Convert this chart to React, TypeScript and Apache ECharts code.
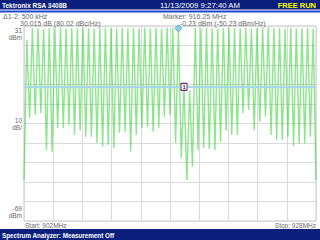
import React, { useEffect, useRef } from "react";
import * as echarts from "echarts";

// Axis range
const START_MHZ = 902;
const STOP_MHZ = 928;
const REF_DBM = 31;
const BOTTOM_DBM = -69;
const DIVISIONS = 10;

// Hopping channels (max-hold trace)
const CHANNEL_MHZ = 0.5;
const FIRST_PEAK_MHZ = 902.25;
const FIRST_VALLEY_MHZ = 902.5;
const EDGE_DBM = [-48, -48]; // at start and stop frequency

// Peak levels at 902.25, 902.75, ... 927.75 MHz
const PEAK_DBM = [
  24, 29.8, 30.1, 29.6, 30.0, 29.9, 30.2, 29.7, 30.0, 29.8,
  30.1, 29.9, 29.6, 30.0, 30.2, 29.8, 29.9, 30.1, 29.7, 30.0,
  29.9, 30.2, 29.8, 30.0, 29.6, 30.1, 29.9, 29.8, -0.23, -2,
  30.0, 29.8, 30.1, 29.9, 29.7, 30.0, 30.2, 29.8, 29.9, 30.1,
  29.7, 30.0, 29.9, 30.2, 29.8, 30.0, 29.6, 30.1, 29.9, 29.8,
  30.0, 29.7,
];

// Valley levels at 902.5, 903.0, ... 927.5 MHz
const VALLEY_DBM = [
  -16, -14.6, -13.6, -32.6, -33.5,
  -21.3, -21.3, -19.8, -24.9, -22.6,
  -25.8, -25.8, -29, -30.9, -30,
  -31.6, -23.9, -23.2, -33.5, -24.9,
  -21.3, -20.6, -23.2, -21.3, -15.5,
  -14.6, -29, -36.7, -48, -41.2,
  -32.6, -31.6, -32.1, -32.6, -28.3,
  -22.6, -24.9, -24.9, -13.6, -12.1,
  -22.6, -18.1, -15.5, -24.9, -27.5,
  -27.5, -25.8, -30.5, -29.2, -29.2,
  -25.8,
];

const MARKER1 = [916.25, -0.23];
const MARKER2 = [915.75, 29.8];

const Y_LABELS = ["31\ndBm", "10\ndB/", "-69\ndBm"];
const TITLE_LEFT = "Tektronix RSA 3408B";
const TITLE_DATE = "11/13/2009 9:27:40 AM";
const TITLE_RIGHT = "FREE RUN";
const DELTA_LINES = ["\u03941-2: 500 kHz", "30.015 dB (80.02 dBc/Hz)"];
const MARKER_LINES = ["Marker: 916.25 MHz", "-0.23 dBm (-50.23 dBm/Hz)"];
const START_LABEL = "Start: 902MHz";
const STOP_LABEL = "Stop: 928MHz";
const STATUS = "Spectrum Analyzer: Measurement Off";

function buildTrace(): number[][] {
  const pts: number[][] = [[START_MHZ, EDGE_DBM[0]]];
  for (let i = 0; i < PEAK_DBM.length; i++) {
    pts.push([FIRST_PEAK_MHZ + i * CHANNEL_MHZ, PEAK_DBM[i]]);
    if (i < VALLEY_DBM.length) {
      pts.push([FIRST_VALLEY_MHZ + i * CHANNEL_MHZ, VALLEY_DBM[i]]);
    }
  }
  pts.push([STOP_MHZ, EDGE_DBM[1]]);
  return pts;
}

const GRID = { left: 24, top: 26, width: 292, height: 195 };
const FONT = "Liberation Sans, Arial, sans-serif";

export default function App() {
  const ref = useRef<HTMLDivElement>(null);
  useEffect(() => {
    if (!ref.current) return;
    const chart = echarts.init(ref.current, undefined, { renderer: "svg" });
    const gridBottom = GRID.top + GRID.height;
    const txt = (x: number, y: number, text: string, o: any = {}) => ({
      type: "text",
      x,
      y,
      z: 100,
      style: {
        text,
        fill: o.fill || "#6a6a6a",
        fontSize: o.fontSize || 7,
        fontFamily: FONT,
        fontWeight: o.fontWeight || "normal",
        align: o.align || "left",
        verticalAlign: o.verticalAlign || "middle",
        lineHeight: o.lineHeight,
      },
    });
    chart.setOption({
      animation: false,
      backgroundColor: "#ffffff",
      grid: {
        left: GRID.left,
        top: GRID.top,
        width: GRID.width,
        height: GRID.height,
        show: true,
        borderColor: "#c8c8c8",
        borderWidth: 1,
        backgroundColor: "transparent",
      },
      xAxis: [
        { type: "value", min: START_MHZ, max: STOP_MHZ, show: false },
        {
          type: "value",
          min: 0,
          max: DIVISIONS,
          interval: 1,
          axisLine: { show: false },
          axisTick: { show: false },
          axisLabel: { show: false },
          splitLine: { show: true, lineStyle: { color: "#dadada", width: 1 } },
        },
      ],
      yAxis: [
        { type: "value", min: BOTTOM_DBM, max: REF_DBM, show: false },
        {
          type: "value",
          min: 0,
          max: DIVISIONS,
          interval: 1,
          axisLine: { show: false },
          axisTick: { show: false },
          axisLabel: { show: false },
          splitLine: { show: true, lineStyle: { color: "#dadada", width: 1 } },
        },
      ],
      series: [
        {
          type: "line",
          xAxisIndex: 0,
          yAxisIndex: 0,
          data: buildTrace(),
          showSymbol: false,
          lineStyle: { color: "#2fcf2f", width: 1.4, opacity: 0.55 },
          markLine: {
            silent: true,
            symbol: "none",
            label: { show: false },
            lineStyle: { color: "#a6d8ea", width: 2, type: "solid" },
            data: [{ yAxis: MARKER1[1] }],
          },
          markPoint: {
            silent: true,
            data: [
              {
                coord: MARKER2,
                symbol: "diamond",
                symbolSize: [7, 7],
                itemStyle: { color: "#8fd0e6", borderColor: "#5aaac8", borderWidth: 1 },
                label: { show: false },
              },
              {
                coord: MARKER1,
                symbol: "rect",
                symbolSize: [6, 7],
                itemStyle: { color: "#ffffff", borderColor: "#702070", borderWidth: 1 },
                label: {
                  show: true,
                  formatter: "1",
                  color: "#301030",
                  fontSize: 5,
                  fontFamily: FONT,
                  fontWeight: "bold",
                },
              },
            ],
          },
        },
      ],
      graphic: [
        { type: "rect", z: 90, shape: { x: 0, y: 0, width: 320, height: 9.5 }, style: { fill: "#0c1f7c" } },
        { type: "rect", z: 90, shape: { x: 0, y: 10.5, width: 320, height: 2 }, style: { fill: "#1f46d0" } },
        { type: "rect", z: 90, shape: { x: 0, y: 229, width: 320, height: 11 }, style: { fill: "#0c1f7c" } },
        txt(2, 5, TITLE_LEFT, { fill: "#ffffff", fontWeight: "bold", fontSize: 6.5 }),
        txt(160, 5, TITLE_DATE, { fill: "#ffffff", fontSize: 7.8 }),
        txt(316, 5, TITLE_RIGHT, { fill: "#ffff00", fontWeight: "bold", fontSize: 7.5, align: "right" }),
        txt(3, 16, DELTA_LINES[0]),
        txt(20, 23.5, DELTA_LINES[1]),
        txt(163, 16, MARKER_LINES[0]),
        txt(180, 23.5, MARKER_LINES[1]),
        txt(22, GRID.top + 1, Y_LABELS[0], { align: "right", verticalAlign: "top", lineHeight: 7, fontSize: 6.5 }),
        txt(22, GRID.top + GRID.height / 2, Y_LABELS[1], { align: "right", verticalAlign: "middle", lineHeight: 7, fontSize: 6.5 }),
        txt(22, gridBottom - 2, Y_LABELS[2], { align: "right", verticalAlign: "bottom", lineHeight: 7, fontSize: 6.5 }),
        txt(25, 225, START_LABEL, { fontSize: 6.5 }),
        txt(316, 225, STOP_LABEL, { fontSize: 6.5, align: "right" }),
        txt(2, 235, STATUS, { fill: "#ffffff", fontWeight: "bold", fontSize: 6.3 }),
      ],
    });
    return () => chart.dispose();
  }, []);
  return (
    <div
      ref={ref}
      style={{ position: "absolute", left: 0, top: 0, width: 320, height: 240, background: "#fff" }}
    />
  );
}
